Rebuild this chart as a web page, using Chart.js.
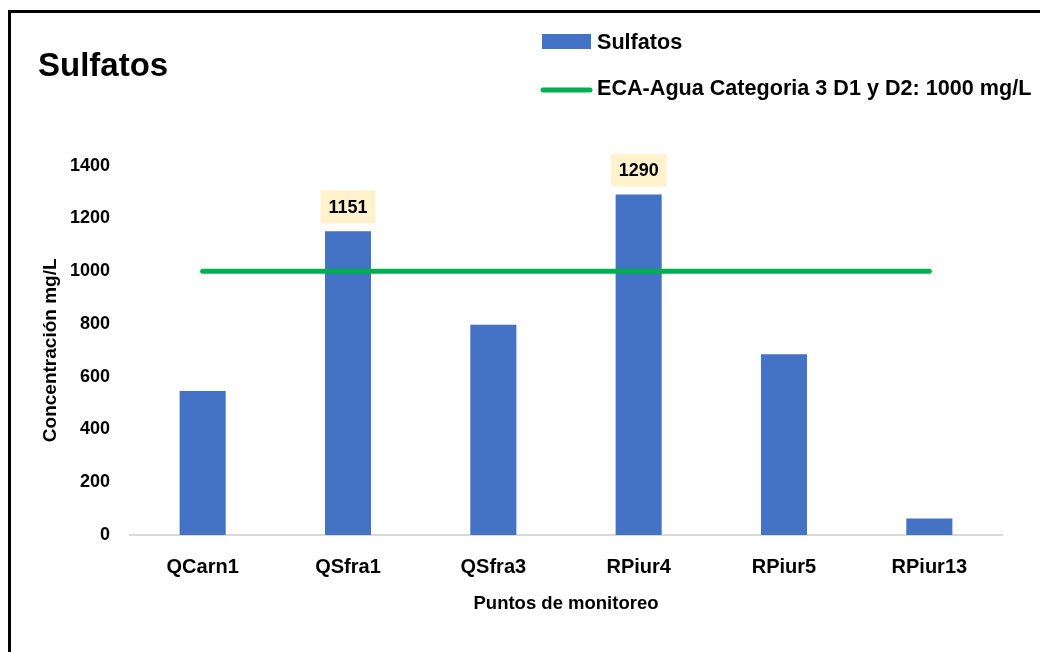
<!DOCTYPE html>
<html>
<head>
<meta charset="utf-8">
<script src="https://cdn.jsdelivr.net/npm/chart.js@4.4.1/dist/chart.umd.min.js"></script>
<style>
  html, body { margin: 0; padding: 0; background: #fff; }
  #wrap { position: relative; width: 1040px; height: 652px; overflow: hidden; }
  #frame { position: absolute; left: 8px; top: 10px; width: 1100px; height: 700px;
           border-left: 3px solid #000; border-top: 3px solid #000; }
  canvas { position: absolute; left: 0; top: 0; }
</style>
</head>
<body>
<div id="wrap">
  <div id="frame"></div>
  <canvas id="chart" width="1040" height="652"></canvas>
</div>
<script>
// Data
const categories = ["QCarn1", "QSfra1", "QSfra3", "RPiur4", "RPiur5", "RPiur13"];
const sulfatos = [546, 1151, 797, 1290, 685, 63];
const ecaLimit = [1000, 1000, 1000, 1000, 1000, 1000];
const yTicks = [0, 200, 400, 600, 800, 1000, 1200, 1400];

const FONT = "'Liberation Sans', Arial, sans-serif";
Chart.defaults.font.family = FONT;
Chart.defaults.color = "#000";

// Legend stacked in two rows at the top right
const legendBox = {
  id: "legendBox",
  afterDraw(chart) {
    const ctx = chart.ctx;
    const [bars, line] = chart.data.datasets;
    ctx.save();
    ctx.font = "bold 21.6px " + FONT;
    ctx.textBaseline = "middle";
    ctx.fillStyle = bars.backgroundColor;
    ctx.fillRect(542, 34, 49, 15);
    ctx.strokeStyle = line.borderColor;
    ctx.lineWidth = 5;
    ctx.lineCap = "round";
    ctx.beginPath();
    ctx.moveTo(543, 90);
    ctx.lineTo(590, 90);
    ctx.stroke();
    ctx.fillStyle = "#000";
    ctx.fillText(bars.label, 597, 43);
    ctx.fillText(line.label, 597, 89);
    ctx.restore();
  }
};

// Value boxes only on bars above the ECA limit
const valueBoxes = {
  id: "valueBoxes",
  afterDatasetsDraw(chart) {
    const ctx = chart.ctx;
    const meta = chart.getDatasetMeta(0);
    ctx.save();
    ctx.font = "bold 18px " + FONT;
    ctx.textAlign = "center";
    ctx.textBaseline = "middle";
    meta.data.forEach((bar, i) => {
      if (sulfatos[i] <= ecaLimit[i]) return;
      const text = String(sulfatos[i]);
      const w = ctx.measureText(text).width + 16;
      const h = 33;
      const bottom = bar.y - 8;
      ctx.fillStyle = "#FFF2CC";
      ctx.fillRect(bar.x - w / 2, bottom - h, w, h);
      ctx.fillStyle = "#000";
      ctx.fillText(text, bar.x, bottom - h / 2 + 1);
    });
    ctx.restore();
  }
};

new Chart(document.getElementById("chart"), {
  data: {
    labels: categories,
    datasets: [
      {
        type: "bar",
        label: "Sulfatos",
        data: sulfatos,
        backgroundColor: "#4472C4",
        barPercentage: 0.317,
        categoryPercentage: 1,
        order: 1
      },
      {
        type: "line",
        label: "ECA-Agua Categoria 3 D1 y D2: 1000 mg/L",
        data: ecaLimit,
        borderColor: "#00B050",
        borderWidth: 5,
        borderCapStyle: "round",
        pointRadius: 0,
        order: 0
      }
    ]
  },
  options: {
    responsive: false,
    animation: false,
    devicePixelRatio: 1,
    layout: { padding: { left: 38, right: 38, top: 0, bottom: 0 } },
    plugins: {
      legend: { display: false },
      tooltip: { enabled: false },
      title: {
        display: true,
        text: "Sulfatos",
        align: "start",
        font: { size: 33, weight: "bold" },
        color: "#000",
        padding: { top: 47, bottom: 79 }
      }
    },
    scales: {
      x: {
        grid: { display: false, drawTicks: false },
        border: { display: true, color: "#D9D9D9", width: 2 },
        ticks: { padding: 20, font: { size: 20, weight: "bold" }, color: "#000" },
        title: {
          display: true,
          text: "Puntos de monitoreo",
          font: { size: 18.5, weight: "bold" },
          color: "#000",
          padding: { top: 0, bottom: 37 }
        },
        afterFit(scale) { scale.height = 117; }
      },
      y: {
        min: yTicks[0],
        max: yTicks[yTicks.length - 1],
        grid: { display: false, drawTicks: false },
        border: { display: false },
        ticks: {
          stepSize: yTicks[1] - yTicks[0],
          padding: 20,
          font: { size: 18, weight: "bold" },
          color: "#000",
          callback: v => String(v)
        },
        title: {
          display: true,
          text: "Concentración mg/L",
          font: { size: 19, weight: "bold" },
          color: "#000",
          padding: { top: 1, bottom: 0 }
        },
        afterFit(scale) { scale.width = 92; }
      }
    }
  },
  plugins: [valueBoxes, legendBox]
});
</script>
</body>
</html>
